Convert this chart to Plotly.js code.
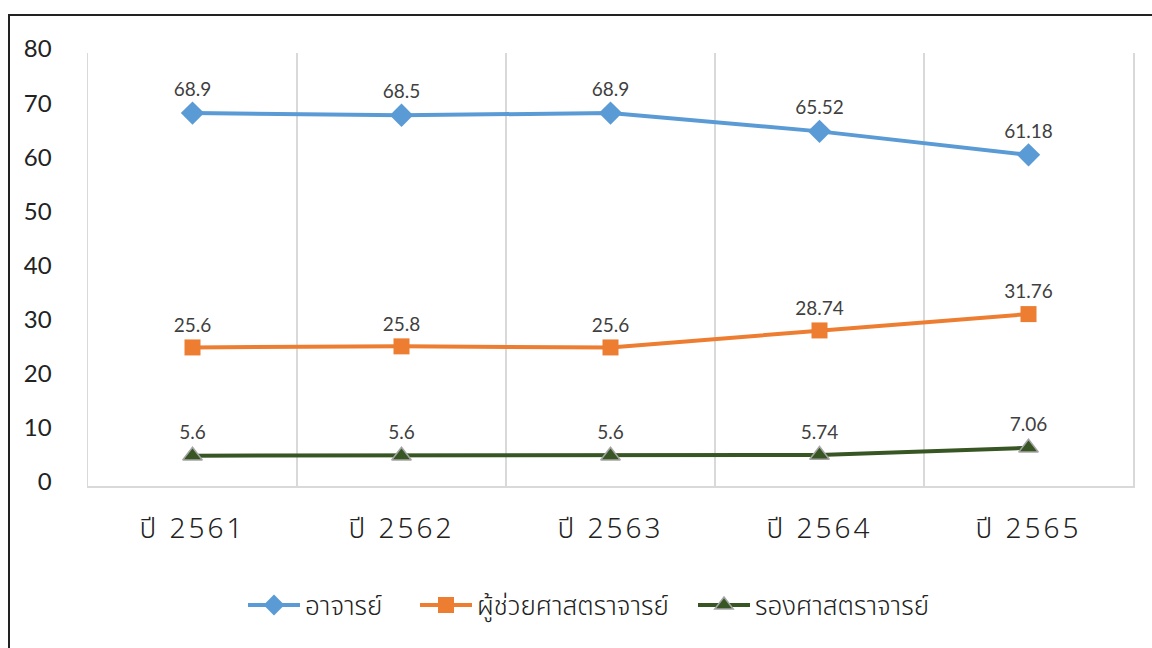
<!DOCTYPE html>
<html>
<head>
<meta charset="utf-8">
<script src="https://cdn.plot.ly/plotly-3.0.1.min.js"></script>
<style>
  html, body { margin: 0; padding: 0; width: 1152px; height: 648px; overflow: hidden; background: #fff; }
  #chart { position: absolute; left: 0; top: 0; width: 1152px; height: 648px; }
  #frame { position: absolute; left: 8px; top: 14px; width: 1200px; height: 700px; border: 2px solid #222; pointer-events: none; }
  #chart .xtick text { letter-spacing: 3px; }
</style>
</head>
<body>
<div id="chart"></div>
<div id="frame"></div>
<script>
const categories = ['ปี 2561', 'ปี 2562', 'ปี 2563', 'ปี 2564', 'ปี 2565'];
const seriesNames = ['อาจารย์', 'ผู้ช่วยศาสตราจารย์', 'รองศาสตราจารย์'];
const lecturer = [68.9, 68.5, 68.9, 65.52, 61.18];
const assistantProf = [25.6, 25.8, 25.6, 28.74, 31.76];
const associateProf = [5.6, 5.6, 5.6, 5.74, 7.06];
const yTicks = [0, 10, 20, 30, 40, 50, 60, 70, 80];

const FONT = "Lato, 'Noto Sans Thai', 'Noto Sans', sans-serif";
const THAI = "'Noto Sans Thai', 'Noto Sans', Lato, sans-serif";
const labelFont = { family: FONT, size: 19, color: '#404040' };

function mk(name, y, color, symbol, size, legendId, lineColor) {
  return {
    type: 'scatter',
    mode: 'lines+markers+text',
    name: name,
    legend: legendId,
    x: categories,
    y: y,
    text: y.map(v => String(v)),
    textposition: 'top center',
    textfont: labelFont,
    cliponaxis: false,
    line: { color: color, width: 4 },
    marker: { symbol: symbol, size: size, color: color, line: { color: lineColor || color, width: lineColor ? 1.5 : 0 } },
    hoverinfo: 'x+y'
  };
}

const traces = [
  mk(seriesNames[0], lecturer, '#5B9BD5', 'diamond', 18, 'legend'),
  mk(seriesNames[1], assistantProf, '#ED7D31', 'square', 16, 'legend2'),
  mk(seriesNames[2], associateProf, '#375623', 'triangle-up', 17, 'legend3', '#A5A5A5')
];

const legendFont = { family: THAI, size: 26, color: '#222', weight: 300 };
function leg(x) {
  return { orientation: 'h', x: x, xanchor: 'left', y: -0.275, yanchor: 'middle',
           font: legendFont, bgcolor: 'rgba(0,0,0,0)', borderwidth: 0, itemwidth: 52 };
}

const layout = {
  width: 1152,
  height: 648,
  margin: { l: 88, r: 19, t: 53, b: 162 },
  paper_bgcolor: '#ffffff',
  plot_bgcolor: '#ffffff',
  font: { family: FONT, color: '#222' },
  showlegend: true,
  legend: leg((243 - 88) / 1045),
  legend2: leg((415 - 88) / 1045),
  legend3: leg((693 - 88) / 1045),
  xaxis: {
    type: 'category',
    range: [-0.5, categories.length - 0.5],
    tickson: 'boundaries',
    showgrid: true,
    gridcolor: '#d9d9d9',
    gridwidth: 1.5,
    showline: true,
    linecolor: '#d9d9d9',
    linewidth: 1.5,
    ticks: 'outside',
    ticklen: 44,
    tickcolor: 'rgba(0,0,0,0)',
    ticklabelstandoff: 17,
    tickfont: { family: THAI, size: 28, color: '#222', weight: 300 },
    zeroline: false,
    fixedrange: true
  },
  yaxis: {
    range: [0, 80],
    tickvals: yTicks,
    ticktext: yTicks.map(String),
    showgrid: false,
    showline: true,
    mirror: true,
    linecolor: '#d9d9d9',
    linewidth: 1.5,
    zeroline: false,
    ticks: 'outside',
    ticklen: 30,
    tickcolor: 'rgba(0,0,0,0)',
    ticklabelshift: -4,
    tickfont: { family: FONT, size: 24, color: '#222' },
    fixedrange: true
  }
};

Plotly.newPlot('chart', traces, layout, { displayModeBar: false, staticPlot: true });
</script>
</body>
</html>
